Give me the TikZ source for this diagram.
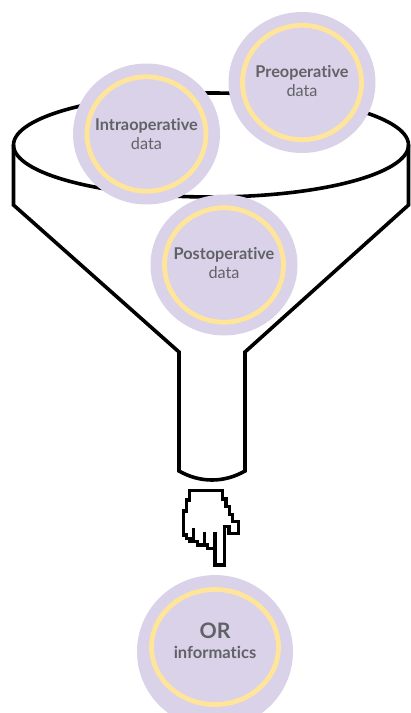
\documentclass[tikz,border=0pt]{standalone}
\usepackage{fontspec}
\setmainfont[Ligatures=NoCommon]{Lato}
\usepackage{tikz}
\usetikzlibrary{shapes.geometric,positioning}
\definecolor{lilac}{HTML}{D9D2E9}
\definecolor{butter}{HTML}{FFE599}
\definecolor{slate}{HTML}{626266}
\tikzset{
  bubble/.style={
    ellipse, fill=lilac, minimum width=110.25pt, minimum height=105.75pt, inner sep=0pt
  },
  ring/.style={
    ellipse, draw=butter, line width=3.6pt, minimum width=89.25pt, minimum height=85.8pt,
    inner sep=0pt
  },
  bubbletext/.style={
    font=\fontsize{12.2pt}{14.7pt}\selectfont, align=center, text=slate, inner sep=0pt
  },
  funnel/.style={line width=2.7pt, black, line join=miter},
  hand/.style={line width=2.4pt, black, line join=miter},
}
\begin{document}
\begin{tikzpicture}[x=0.75pt,y=-0.75pt]
  \useasboundingbox (0,0) rectangle (410,713);
  % funnel
  \draw[funnel] (211,145) ellipse [x radius=197.5, y radius=52];
  \draw[funnel] (13.5,145) -- (13.5,205) -- (179,352) -- (179,471)
    .. controls (200,483) and (224,483) .. (245,471)
    -- (245,352) -- (408.5,205) -- (408.5,145);
  % data circles
  \node[bubble] (pre) at (302,82.5) {};
  \node[ring] (prering) at (pre) {};
  \node[bubbletext] (pretext) at ([yshift=1pt]pre) {\textbf{Preoperative}\\data};
  \node[bubble] (intra) at (146.5,134) {};
  \node[ring] (intraring) at (intra) {};
  \node[bubbletext] (intratext) at (intra) {\textbf{Intraoperative}\\data};
  \node[bubble] (post) at (224,265) {};
  \node[ring] (postring) at (post) {};
  \node[bubbletext] (posttext) at ([yshift=1.5pt]post) {\textbf{Postoperative}\\data};
  % pointing hand
  \begin{scope}[shift={(175,485)},x=0.25pt,y=-0.25pt]
    \draw[hand] (44,17) -- (143,17) -- (143,42) -- (153,42) -- (153,65) -- (163,65)
      -- (163,88) -- (173,88) -- (173,110) -- (190,110) -- (190,145) -- (162,145)
      -- (162,125) -- (148,125) -- (148,240) -- (120,240) -- (120,190) -- (98,190)
      -- (98,180) -- (68,180) -- (68,170) -- (45,170) -- (45,160) -- (35,160) -- (35,150)
      -- (25,150) -- (25,78) -- (34,78) -- (34,45) -- (44,45) -- cycle;
    \draw[hand] (55,130) -- (55,170);
    \draw[hand] (88,140) -- (88,180);
    \draw[hand] (120,140) -- (120,190);
  \end{scope}
  % result
  \node[bubble, minimum width=117pt, minimum height=115pt] (orinf) at (215,651.7) {};
  \node[ring, minimum width=95.25pt, minimum height=86.25pt] (orring) at (215,647) {};
  \node[font=\fontsize{16pt}{18pt}\bfseries, text=slate] (ortext) at (215,630.5) {OR};
  \node[font=\fontsize{12.4pt}{14pt}\bfseries, text=slate] (orsub) at (215,652) {informatics};
\end{tikzpicture}
\end{document}
